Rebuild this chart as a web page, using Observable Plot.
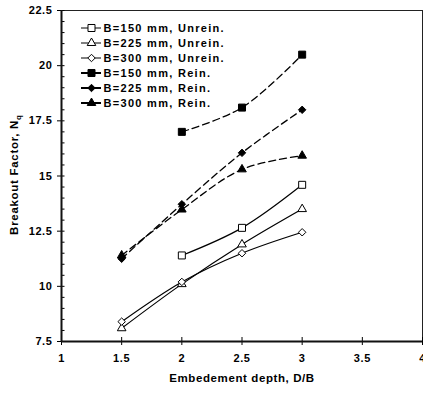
<!DOCTYPE html>
<html><head><meta charset="utf-8">
<script src="https://cdn.jsdelivr.net/npm/d3@7"></script>
<script src="https://cdn.jsdelivr.net/npm/@observablehq/plot@0.6"></script>
<style>
body{margin:0;background:#fff;}
#wrap{position:relative;width:423px;height:396px;}
#wrap svg{position:absolute;left:0;top:0;overflow:visible;}
#ytitle{position:absolute;left:15px;top:175px;transform:translate(-50%,-50%) rotate(-90deg);
  white-space:nowrap;font:bold 11.5px 'Liberation Sans', Arial, sans-serif;letter-spacing:0.7px;color:#000;line-height:12px;}
#ytitle span{font-size:8px;position:relative;top:3px;letter-spacing:0;}
</style></head><body><div id="wrap"></div>
<script>
// ---- data ----
const depths = [1.5, 2, 2.5, 3];
const seriesNames = ["B=150 mm, Unrein.", "B=225 mm, Unrein.", "B=300 mm, Unrein.",
                     "B=150 mm, Rein.", "B=225 mm, Rein.", "B=300 mm, Rein."];
const unrein150 = [null, 11.4, 12.65, 14.6];
const unrein225 = [8.1, 10.1, 11.9, 13.5];
const unrein300 = [8.4, 10.2, 11.5, 12.45];
const rein150 = [null, 17.0, 18.1, 20.5];
const rein225 = [11.25, 13.72, 16.05, 18.0];
const rein300 = [11.4, 13.48, 15.3, 15.92];
const seriesValues = [unrein150, unrein225, unrein300, rein150, rein225, rein300];
const seriesShapes = ["square", "triangle", "diamond2", "square", "diamond2", "triangle"];
const seriesRein = [false, false, false, true, true, true];
const xTicks = [1, 1.5, 2, 2.5, 3, 3.5, 4];
const yTicks = [7.5, 10, 12.5, 15, 17.5, 20, 22.5];
const yMinorTicks = d3.range(7.5, 22.51, 0.5);
const xTitle = "Embedement depth, D/B";
const yTitle = "Breakout Factor, N";
const ySub = "q";

// ---- build table ----
const series = seriesNames.map((name, i) => ({name, shape: seriesShapes[i], rein: seriesRein[i]}));
const rows = series.flatMap((s, i) => depths.map((x, j) => ({name: s.name, shape: s.shape, rein: s.rein, x, y: seriesValues[i][j]})))
  .filter(d => d.y != null);

const symbolR = {square: 3.95, triangle: 3.2, diamond2: 3.35};
const dotMarks = (data, xAcc, yAcc) => ["square", "triangle", "diamond2"].map(sh =>
  Plot.dot(data.filter(d => d.shape === sh), {
    x: xAcc, y: yAcc, symbol: sh, r: symbolR[sh],
    fill: d => d.rein ? "black" : "white", stroke: "black", strokeWidth: 1
  }));

const font = "'Liberation Sans', Arial, sans-serif";

const chart = Plot.plot({
  width: 423, height: 396,
  marginLeft: 61, marginRight: 1, marginTop: 10, marginBottom: 55,
  style: {fontFamily: font, fontSize: "11px", fontWeight: "bold", letterSpacing: "0.6px", color: "black", background: "white"},
  x: {domain: [1, 4], axis: null},
  y: {domain: [7.5, 22.5], axis: null},
  marks: [
    Plot.ruleY([22.5], {stroke: "#222", strokeWidth: 1}),
    Plot.ruleX([4], {stroke: "#222", strokeWidth: 1}),
    Plot.line(rows.filter(d => !d.rein), {x: "x", y: "y", z: "name", curve: "catmull-rom", stroke: "black", strokeWidth: 1.2}),
    Plot.line(rows.filter(d => d.rein), {x: "x", y: "y", z: "name", curve: "catmull-rom", stroke: "black", strokeWidth: 1.3, strokeDasharray: "7,4"}),
    ...dotMarks(rows, "x", "y"),
    Plot.axisX({ticks: xTicks, tickSize: 4, tickPadding: 9, tickFormat: d => String(d), label: null}),
    Plot.axisX({ticks: xTicks, tickSize: 4, dy: -4, tickFormat: () => "", label: null}),
    Plot.axisY({ticks: yTicks, tickSize: 4, tickPadding: 5, tickFormat: d => String(d), label: null}),
    Plot.axisY({ticks: yMinorTicks, tickSize: 3.5, dx: 3.5, tickFormat: () => "", label: null}),
    Plot.ruleX([1], {strokeWidth: 2, stroke: "#111"}),
    Plot.ruleY([7.5], {strokeWidth: 2, stroke: "#111"}),
    Plot.text([xTitle], {text: d => d, frameAnchor: "bottom", dy: 40, fontSize: 11.5, letterSpacing: 0.5})
  ]
});

const legend = Plot.plot({
  width: 260, height: 120,
  marginLeft: 81, marginRight: 159, marginTop: 20, marginBottom: 10,
  style: {fontFamily: font, fontSize: "11px", fontWeight: "bold", letterSpacing: "1.3px", color: "black", background: "transparent"},
  x: {domain: [0, 1], axis: null},
  y: {type: "band", domain: seriesNames, padding: 0, axis: null},
  marks: [
    Plot.ruleY(series.filter(s => !s.rein), {y: "name", x1: 0, x2: 1, stroke: "black", strokeWidth: 1}),
    Plot.ruleY(series.filter(s => s.rein), {y: "name", x1: 0, x2: 1, stroke: "black", strokeWidth: 2}),
    ...dotMarks(series, () => 0.5, "name"),
    Plot.text(series, {x: () => 1, y: "name", text: "name", textAnchor: "start", dx: 2})
  ]
});

const yt = document.createElement("div");
yt.id = "ytitle";
yt.append(yTitle);
const sub = document.createElement("span");
sub.textContent = ySub;
yt.append(sub);

document.getElementById("wrap").append(chart, legend, yt);
</script></body></html>
